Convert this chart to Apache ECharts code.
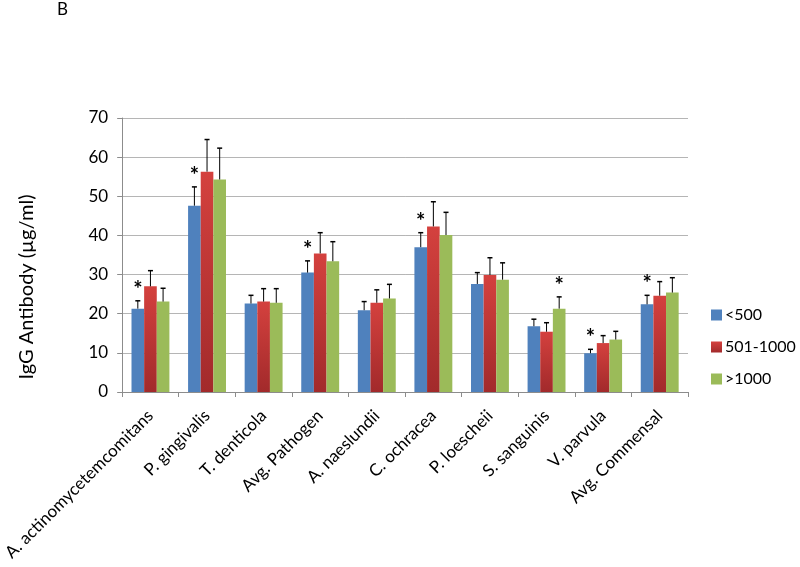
<!DOCTYPE html>
<html>
<head>
<meta charset="utf-8">
<script src="https://cdn.jsdelivr.net/npm/echarts@6/dist/echarts.min.js"></script>
<style>html,body{margin:0;padding:0;background:#fff}#c{width:800px;height:567px}</style>
</head>
<body>
<div id="c"></div>
<script>
var categories = ['A. actinomycetemcomitans','P. gingivalis','T. denticola','Avg. Pathogen','A. naeslundii','C. ochracea','P. loescheii','S. sanguinis','V. parvula','Avg. Commensal'];
var seriesNames = ['<500','501-1000','>1000'];
var valsLow  = [21.3, 47.6, 22.6, 30.5, 20.9, 37.0, 27.6, 16.8, 9.9, 22.4];
var valsMid  = [27.0, 56.3, 23.1, 35.4, 22.8, 42.3, 29.9, 15.4, 12.5, 24.6];
var valsHigh = [23.1, 54.3, 22.8, 33.4, 23.9, 40.1, 28.7, 21.3, 13.4, 25.4];
var errLow   = [2.0, 4.8, 2.1, 3.0, 2.2, 3.7, 2.9, 1.8, 1.0, 2.3];
var errMid   = [4.0, 8.2, 3.3, 5.3, 3.3, 6.3, 4.4, 2.3, 1.9, 3.6];
var errHigh  = [3.4, 8.0, 3.6, 5.0, 3.6, 5.8, 4.3, 3.0, 2.1, 3.8];
// significance stars: [category index, series index]
var stars = [[0,0],[1,0],[3,0],[5,0],[7,2],[8,0],[9,0]];
var yTicks = [0,10,20,30,40,50,60,70];

var FONT = 'Lato';
var colors = [
  '#4f81bd',
  {type:'linear',x:0,y:0,x2:0,y2:1,colorStops:[{offset:0,color:'#d4413e'},{offset:1,color:'#a22a2b'}]},
  '#9bbb59'
];
var allVals = [valsLow, valsMid, valsHigh];
var allErr = [errLow, errMid, errHigh];
var CAT_GAP = 0.33;

var series = [];
seriesNames.forEach(function(name, si){
  series.push({
    name: name, type: 'bar', data: allVals[si],
    barGap: '0%', barCategoryGap: (CAT_GAP*100)+'%',
    itemStyle: {color: colors[si]}, z: 2
  });
});
seriesNames.forEach(function(name, si){
  var data = allVals[si].map(function(v, ci){
    var s = stars.some(function(p){return p[0]===ci && p[1]===si;}) ? 1 : 0;
    return [ci, v, allErr[si][ci], s];
  });
  series.push({
    type: 'custom', name: name + ' err', data: data, z: 5, silent: true,
    renderItem: function(params, api){
      var ci = api.value(0), v = api.value(1), e = api.value(2), st = api.value(3);
      var band = api.size([1,0])[0];
      var bw = band*(1-CAT_GAP)/3;
      var p0 = api.coord([ci, v]);
      var p1 = api.coord([ci, v+e]);
      var x = p0[0] + (si-1)*bw;
      var cap = 2.5;
      var children = [
        {type:'line', shape:{x1:x,y1:p0[1],x2:x,y2:p1[1]}, style:{stroke:'#000',lineWidth:1}},
        {type:'line', shape:{x1:x-cap,y1:p1[1],x2:x+cap,y2:p1[1]}, style:{stroke:'#000',lineWidth:1.5}}
      ];
      if (st) {
        children.push({type:'text', style:{text:'*', x:x, y:p1[1]-11, align:'center', verticalAlign:'middle', font:'bold 22px '+FONT, fill:'#000'}});
      }
      return {type:'group', children: children};
    }
  });
});

var chart = echarts.init(document.getElementById('c'));
chart.setOption({
  animation: false,
  backgroundColor: '#fff',
  grid: {left: 122, right: 112, top: 118, bottom: 175, containLabel: false},
  legend: {
    data: seriesNames, orient: 'vertical', left: 706, top: 302,
    itemWidth: 11, itemHeight: 11, itemGap: 16, icon: 'rect',
    textStyle: {fontFamily: FONT, fontSize: 16, color: '#000', padding:[0,0,0,-2]},
    selectedMode: false
  },
  xAxis: {
    type: 'category', data: categories,
    axisLine: {lineStyle: {color: '#8c8c8c'}},
    axisTick: {show: true, length: 5, lineStyle: {color: '#8c8c8c'}},
    axisLabel: {rotate: 45, interval: 0, fontFamily: FONT, fontSize: 17, color: '#000', margin: 21}
  },
  yAxis: {
    type: 'value', min: yTicks[0], max: yTicks[yTicks.length-1], interval: 10,
    axisLine: {show: true, lineStyle: {color: '#8c8c8c'}},
    axisTick: {show: true, length: 5, lineStyle: {color: '#8c8c8c'}},
    splitLine: {lineStyle: {color: '#b5b5b5'}},
    axisLabel: {fontFamily: FONT, fontSize: 17, color: '#000', margin: 14}
  },
  graphic: [
    {type:'text', left: 57, top: 1, style:{text:'B', font:'17px '+FONT, fill:'#000'}},
    {type:'text', x: 27, y: 287, rotation: Math.PI/2, style:{text:'IgG Antibody (µg/ml)', font:'20px '+FONT, fill:'#000', align:'center', verticalAlign:'middle'}}
  ],
  series: series
});
</script>
</body>
</html>
